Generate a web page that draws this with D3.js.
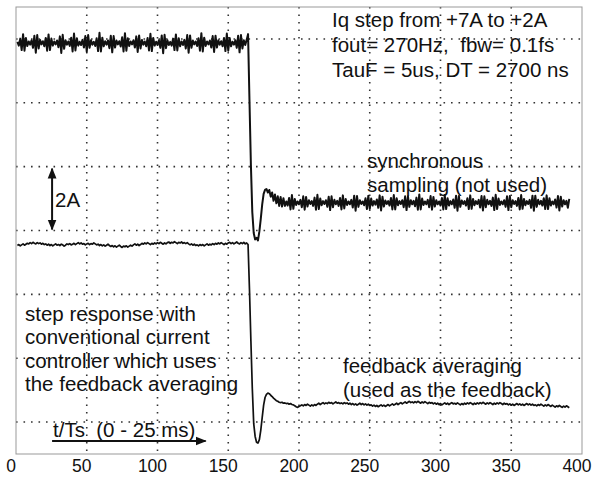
<!DOCTYPE html>
<html lang="en">
<head>
<meta charset="UTF-8">
<title>Iq step response</title>
<style>
  body { margin: 0; background: #fff; }
  svg text { font-family: "Liberation Sans", Arial, sans-serif; fill: #111; white-space: pre; }
</style>
</head>
<body>
<div id="graph"></div>
<script src="https://d3js.org/d3.v7.min.js"></script>
<script>
// size of the page / plot frame
const WIDTH = 594, HEIGHT = 477;
const FRAME = { left: 16, top: 7, right: 582, bottom: 454 };

// axis
const X_TICKS = [0, 50, 100, 150, 200, 250, 300, 350, 400];
const X_GRID = [50, 100, 150, 200, 250, 300, 350];
const Y_GRID = [1, 3, 5, 7, 9, 11, 13];   // one division = 2 A

// samples start at t/Ts = 1, one sample per Ts, values in 0.01 A
const T0 = 1;
const syncSampling = [
  704,692,714,678,728,676,716,691,705, 695,709,685,723,670,725,683,710,696,
  706,690,716,676,727,678,714,692,705, 696,708,687,721,669,726,682,709,695,
  705,691,717,674,730,677,715,692,704, 694,710,686,722,673,725,685,709,695,
  704,691,715,675,732,674,717,690,706, 695,708,684,723,671,722,686,708,696,
  706,689,718,674,731,676,715,691,705, 696,709,686,721,672,724,683,710,695,
  705,690,716,677,729,675,716,692,704, 695,709,685,724,668,726,684,709,694,
  704,692,714,678,727,677,715,690,705, 694,710,683,725,670,724,685,708,696,
  705,691,715,676,731,674,717,691,705, 696,708,686,722,672,723,686,709,695,
  706,690,716,675,730,676,716,690,704, 695,709,685,723,671,725,683,709,694,
  710,728,
  520,320,170,105,85,90,82,110,150,195,228,240,
  243,232,240,219,232,206,226,198,220,190,218,188,214,190,
  204,191,215,179,224,181,212,193,204, 195,209,186,220,178,218,188,208,196,
  205,190,216,178,225,180,213,192,205, 196,208,187,219,177,220,186,209,195,
  206,190,215,179,223,182,212,193,204, 195,209,185,222,175,221,187,208,196,
  204,192,214,180,222,181,213,191,205, 194,210,184,223,176,219,188,207,196,
  205,191,215,179,224,179,214,192,205, 196,208,186,220,177,220,187,208,195,
  206,189,216,178,226,179,213,193,204, 195,209,186,221,178,218,188,208,195,
  204,191,215,179,224,180,214,191,205, 195,210,184,222,175,221,187,207,196,
  205,191,214,180,223,181,212,192,205, 196,209,185,221,176,220,186,209,195,
  206,190,216,177,225,180,213,193,204, 195,208,187,220,177,221,186,208,196,
  205,190,215,179,224,181,212,192,205, 196,209,184,222,175,222,187,209,195,
  206,191,214,180,223,180,214,191,204, 195,210,185,221,176,219,188,208,195,
  206,184,212
];
const feedbackAveraging = [
  698,701,697,700,703,699,702,705,703,707, 704,708,705,703,707,704,706,702,705,701,
  703,699,702,698,701,697,700,703,699,701, 698,702,700,696,699,703,701,704,700,702,
  705,701,704,707,703,706,702,704,700,703, 705,701,704,702,706,703,700,702,698,701,
  697,700,696,699,702,698,695,698,694,697, 693,696,699,695,692,696,694,697,693,696,
  699,696,700,703,699,702,698,701,705,702, 706,703,707,704,701,705,702,706,703,707,
  704,708,705,702,706,703,707,709,705,708, 706,710,707,704,708,706,709,705,707,704,
  707,703,700,703,699,702,698,700,697,701, 698,701,697,700,703,699,702,700,704,701,
  705,702,706,703,707,704,701,705,702,706, 708,704,707,703,706,709,705,703,707,704,
  708,703,706,701,
  560,400,250,140,100,82,79,90,120,160,198,222,
  232,236,234,229,225,220,216,212,210,207,206,207,204,205,
  203,204,201,203,200,199,196,193,191,194,
  196,199,196,200,197,201,198,195,199,196, 200,197,201,204,200,203,206,202,205,203,
  207,204,206,202,205,208,204,206,203,205, 202,206,203,205,201,204,200,203,199,202,
  198,201,204,200,203,199,202,198,201,197, 199,195,198,194,197,193,196,199,195,198,
  194,197,200,196,199,202,198,201,204,200, 203,206,202,205,208,204,207,210,206,208,
  205,209,206,210,207,204,208,205,209,206, 203,207,204,206,202,205,201,204,200,203,
  199,202,205,201,204,200,203,206,202,204, 201,205,202,199,203,200,204,201,205,202,
  206,203,200,204,201,205,202,206,203,207, 204,201,205,202,206,203,200,204,201,205,
  202,206,203,200,204,201,203,199,202,198, 201,197,200,203,199,202,198,201,197,200,
  203,199,202,198,201,197,199,196,200,197, 201,198,195,199,196,200,197,194,198,195,
  192,196,193,197,194,191,195,192,196,193,190
];

// where each trace sits on the screen (A added to the value)
const SYNC_OFFSET = 5.87;
const FB_OFFSET = -0.45;

// text
const INFO_LINES = ["Iq step from +7A to +2A", "fout= 270Hz,  fbw= 0.1fs", "TauF = 5us, DT = 2700 ns"];
const SYNC_LABEL = ["synchronous", "sampling (not used)"];
const FB_LABEL = ["feedback averaging", "(used as the feedback)"];
const NOTE_LINES = ["step response with", "conventional current", "controller which uses", "the feedback averaging"];
const TIME_LABEL = "t/Ts  (0 - 25 ms)";

const xScale = d3.scaleLinear().domain([0, 400]).range([FRAME.left, FRAME.right]);
const yScale = d3.scaleLinear().domain([0, 14]).range([FRAME.bottom, FRAME.top]);

const svg = d3.select("#graph").append("svg")
  .attr("width", WIDTH).attr("height", HEIGHT);

svg.append("defs").append("marker")
  .attr("id", "head").attr("viewBox", "0 0 10 10")
  .attr("refX", 9).attr("refY", 5)
  .attr("markerWidth", 11).attr("markerHeight", 11)
  .attr("markerUnits", "userSpaceOnUse")
  .attr("orient", "auto-start-reverse")
  .append("path").attr("d", "M0,1 L10,5 L0,9 Z").attr("fill", "#111");

// dotted grid
svg.append("g").selectAll("line").data(X_GRID).join("line")
  .attr("x1", d => xScale(d)).attr("x2", d => xScale(d))
  .attr("y1", FRAME.top).attr("y2", FRAME.bottom)
  .attr("stroke", "#333").attr("stroke-width", 1.6)
  .attr("stroke-dasharray", "1.6 5.9");

svg.append("g").selectAll("line").data(Y_GRID).join("line")
  .attr("x1", FRAME.left).attr("x2", FRAME.right)
  .attr("y1", d => yScale(d)).attr("y2", d => yScale(d))
  .attr("stroke", "#333").attr("stroke-width", 1.6)
  .attr("stroke-dasharray", "1.6 5.9");

// frame
svg.append("rect")
  .attr("x", FRAME.left).attr("y", FRAME.top)
  .attr("width", FRAME.right - FRAME.left).attr("height", FRAME.bottom - FRAME.top)
  .attr("fill", "none").attr("stroke", "#999").attr("stroke-width", 1);

// x axis labels
svg.append("g").selectAll("text").data(X_TICKS).join("text")
  .attr("x", d => xScale(d) - 5).attr("y", 472)
  .attr("text-anchor", "middle").attr("font-size", 17.5)
  .text(d => d);

// traces
const line = offset => d3.line()
  .x((d, i) => xScale(T0 + i))
  .y(d => yScale(d / 100 + offset));

svg.append("path").datum(syncSampling)
  .attr("d", line(SYNC_OFFSET))
  .attr("fill", "none").attr("stroke", "#111").attr("stroke-width", 2)
  .attr("stroke-linejoin", "round");

svg.append("path").datum(feedbackAveraging)
  .attr("d", line(FB_OFFSET))
  .attr("fill", "none").attr("stroke", "#111").attr("stroke-width", 1.7)
  .attr("stroke-linejoin", "round");

// annotations
const addLines = (lines, x, y0, dy, size) => {
  svg.append("g").selectAll("text").data(lines).join("text")
    .attr("x", x).attr("y", (d, i) => y0 + i * dy)
    .attr("font-size", size)
    .text(d => d);
};
addLines(INFO_LINES, 332, 27, 25, 20.5);
addLines(SYNC_LABEL, 367, 168, 24, 20.5);
addLines(FB_LABEL, 343, 373, 24, 20.5);
addLines(NOTE_LINES, 25, 321, 23.3, 20.5);

// 2A arrow (spans one division)
svg.append("line")
  .attr("x1", xScale(25.5)).attr("x2", xScale(25.5))
  .attr("y1", yScale(9) + 2).attr("y2", yScale(7) - 1)
  .attr("stroke", "#111").attr("stroke-width", 2)
  .attr("marker-start", "url(#head)").attr("marker-end", "url(#head)");
svg.append("text").attr("x", 55).attr("y", 207).attr("font-size", 20.5).text("2A");

// time arrow
svg.append("line")
  .attr("x1", xScale(25.5)).attr("x2", xScale(134))
  .attr("y1", 441).attr("y2", 441)
  .attr("stroke", "#111").attr("stroke-width", 1.8)
  .attr("marker-end", "url(#head)");
svg.append("text").attr("x", 53).attr("y", 437).attr("font-size", 20.5).text(TIME_LABEL);
</script>
</body>
</html>
